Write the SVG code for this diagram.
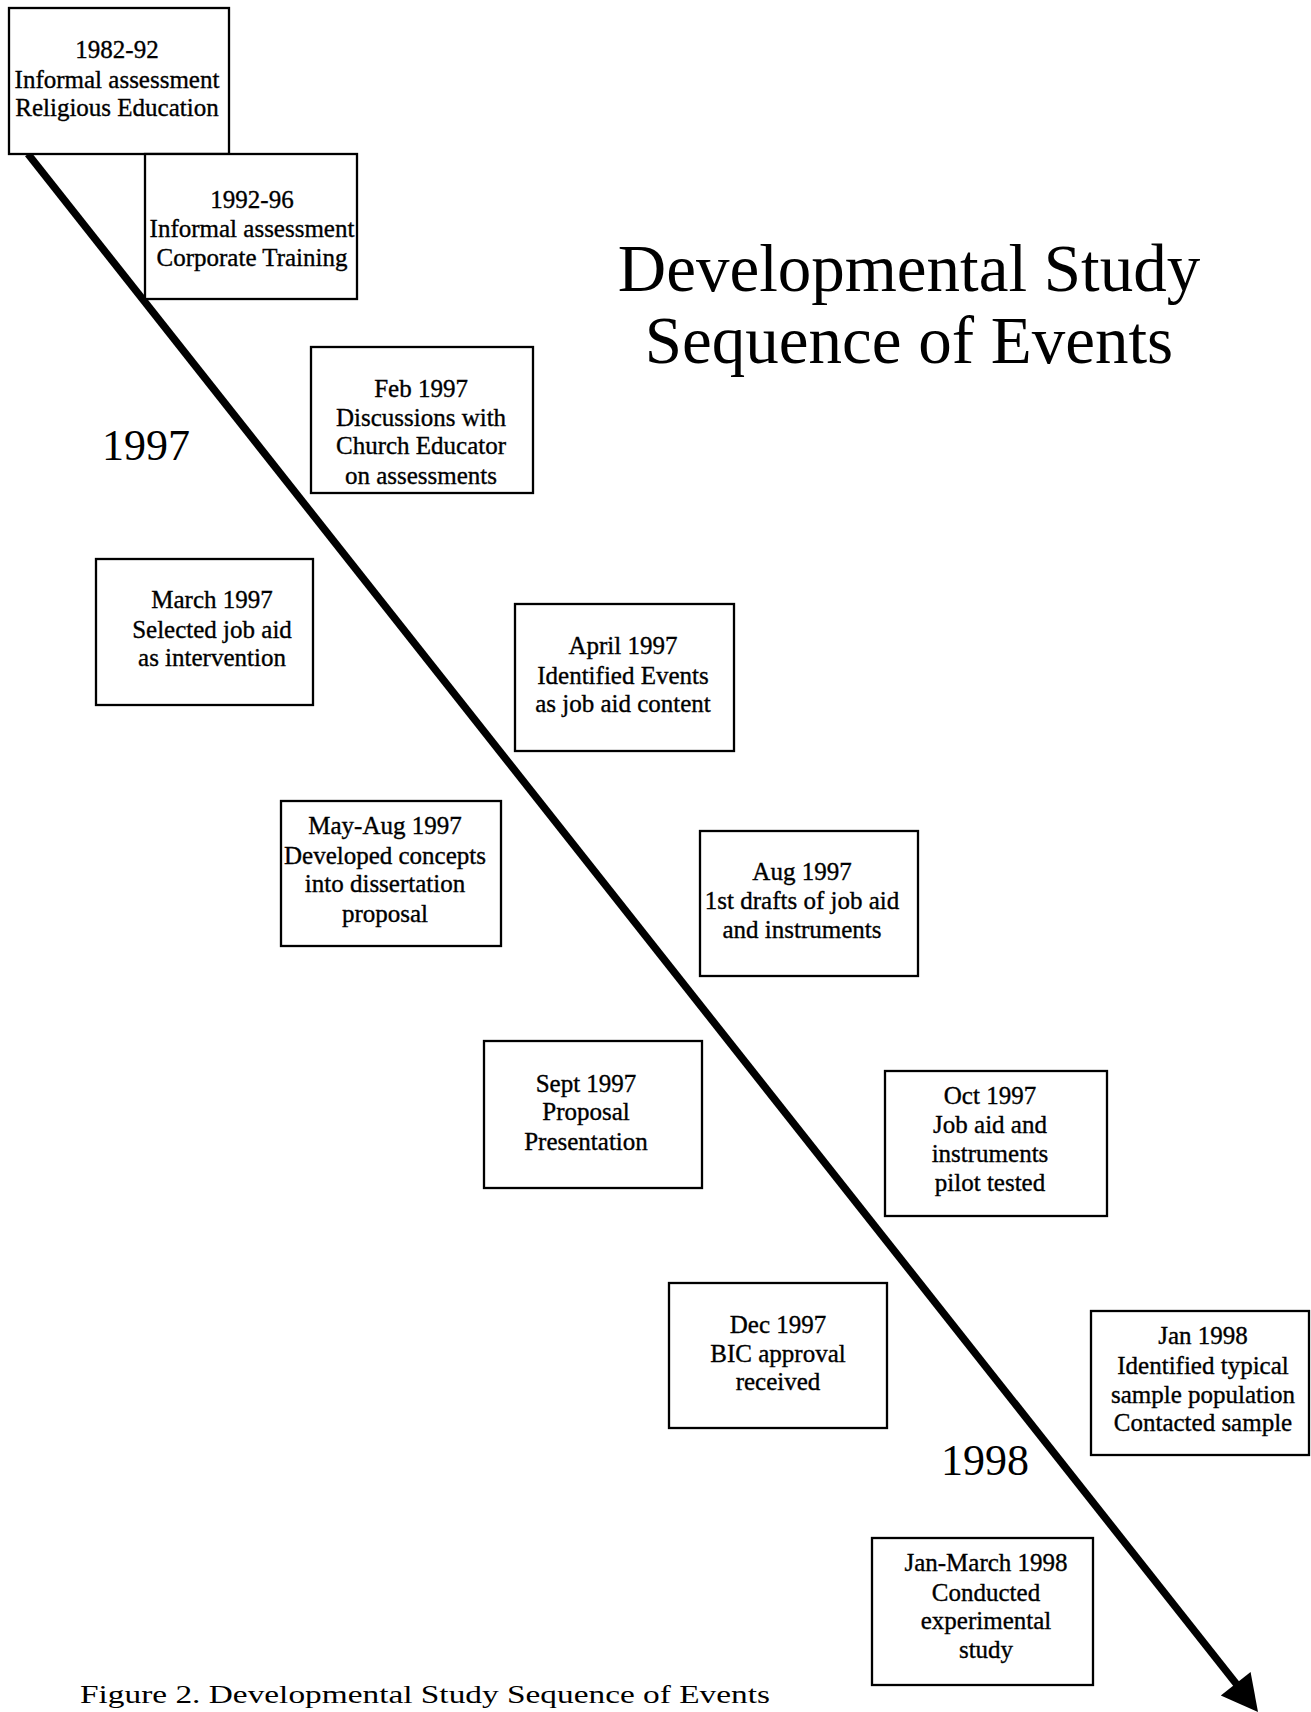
<svg xmlns="http://www.w3.org/2000/svg" width="1311" height="1712" viewBox="0 0 1311 1712">
<style>
.box{fill:#fff;stroke:#000;stroke-width:2.3}
.t{font-family:"Liberation Serif","Times New Roman",serif;font-size:25px;fill:#000;stroke:#000;stroke-width:0.35;text-anchor:middle}
.big{font-family:"Liberation Serif","Times New Roman",serif;font-size:44px;fill:#000}
.title{font-family:"Liberation Serif","Times New Roman",serif;font-size:67px;fill:#000;text-anchor:middle}
.cap{font-family:"Liberation Serif","Times New Roman",serif;font-size:26px;fill:#000}
</style>
<rect width="1311" height="1712" fill="#fff"/>
<g id="connectors">
<line x1="28" y1="154" x2="1238" y2="1686" stroke="#000" stroke-width="7.5"/>
<polygon points="1258,1712 1220.8,1695.5 1250.6,1671.9" fill="#000"/>
</g>
<g id="n1"><rect class="box" x="9" y="8" width="220" height="146"/>
<text class="t" x="117" y="58">1982-92</text><text class="t" x="117" y="88">Informal assessment</text><text class="t" x="117" y="116">Religious Education</text></g>
<g id="n2"><rect class="box" x="145" y="154" width="212" height="145"/>
<text class="t" x="252" y="208">1992-96</text><text class="t" x="252" y="237">Informal assessment</text><text class="t" x="252" y="266">Corporate Training</text></g>
<g id="n3"><rect class="box" x="311" y="347" width="222" height="146"/>
<text class="t" x="421" y="397">Feb 1997</text><text class="t" x="421" y="426">Discussions with</text><text class="t" x="421" y="454">Church Educator</text><text class="t" x="421" y="484">on assessments</text></g>
<g id="n4"><rect class="box" x="96" y="559" width="217" height="146"/>
<text class="t" x="212" y="608">March 1997</text><text class="t" x="212" y="638">Selected job aid</text><text class="t" x="212" y="666">as intervention</text></g>
<g id="n5"><rect class="box" x="515" y="604" width="219" height="147"/>
<text class="t" x="623" y="654">April 1997</text><text class="t" x="623" y="684">Identified Events</text><text class="t" x="623" y="712">as job aid content</text></g>
<g id="n6"><rect class="box" x="281" y="801" width="220" height="145"/>
<text class="t" x="385" y="834">May-Aug 1997</text><text class="t" x="385" y="864">Developed concepts</text><text class="t" x="385" y="892">into dissertation</text><text class="t" x="385" y="922">proposal</text></g>
<g id="n7"><rect class="box" x="700" y="831" width="218" height="145"/>
<text class="t" x="802" y="880">Aug 1997</text><text class="t" x="802" y="909">1st drafts of job aid</text><text class="t" x="802" y="938">and instruments</text></g>
<g id="n8"><rect class="box" x="484" y="1041" width="218" height="147"/>
<text class="t" x="586" y="1092">Sept 1997</text><text class="t" x="586" y="1120">Proposal</text><text class="t" x="586" y="1150">Presentation</text></g>
<g id="n9"><rect class="box" x="885" y="1071" width="222" height="145"/>
<text class="t" x="990" y="1104">Oct 1997</text><text class="t" x="990" y="1133">Job aid and</text><text class="t" x="990" y="1162">instruments</text><text class="t" x="990" y="1191">pilot tested</text></g>
<g id="n10"><rect class="box" x="669" y="1283" width="218" height="145"/>
<text class="t" x="778" y="1333">Dec 1997</text><text class="t" x="778" y="1362">BIC approval</text><text class="t" x="778" y="1390">received</text></g>
<g id="n11"><rect class="box" x="1091" y="1311" width="218" height="144"/>
<text class="t" x="1203" y="1344">Jan 1998</text><text class="t" x="1203" y="1374">Identified typical</text><text class="t" x="1203" y="1403">sample population</text><text class="t" x="1203" y="1431">Contacted sample</text></g>
<g id="n12"><rect class="box" x="872" y="1538" width="221" height="147"/>
<text class="t" x="986" y="1571">Jan-March 1998</text><text class="t" x="986" y="1601">Conducted</text><text class="t" x="986" y="1629">experimental</text><text class="t" x="986" y="1658">study</text></g>
<g id="labels">
<text class="big" x="102" y="460">1997</text>
<text class="big" x="941" y="1475">1998</text>
<text class="title" x="909" y="291">Developmental Study</text>
<text class="title" x="909" y="363">Sequence of Events</text>
<text class="cap" x="80" y="1703" textLength="690" lengthAdjust="spacingAndGlyphs">Figure 2. Developmental Study Sequence of Events</text>
</g>
</svg>
